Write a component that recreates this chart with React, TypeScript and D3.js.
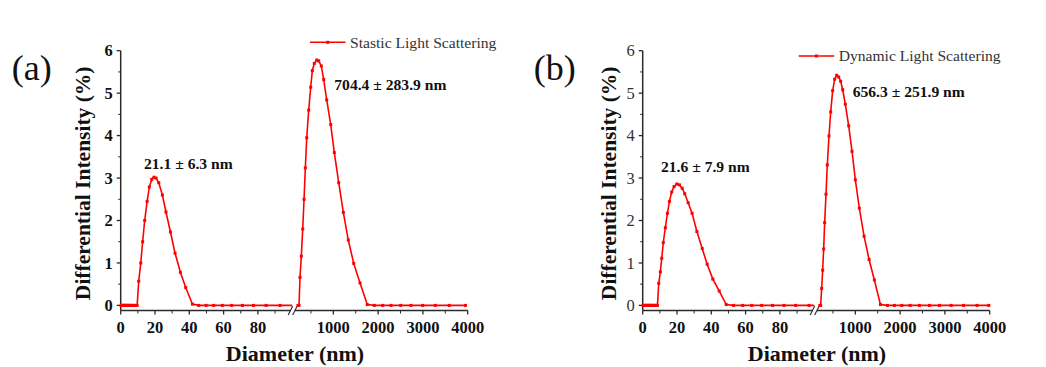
import React from "react";
import * as d3 from "d3";

// ---------- data ----------
const diameterA = [
  0.3, 0.7, 1.1, 1.5, 1.9, 2.3, 2.7, 3.1, 3.5, 3.9,
  4.3, 4.7, 5.2, 5.7, 6.2, 6.8, 7.4, 8.1, 8.8, 9.6,
  10.5, 11.7, 12.8, 14.0, 15.4, 16.7, 18.1, 19.4, 20.6, 22.2,
  24.3, 26.4, 29.0, 31.7, 34.8, 37.9, 41.8, 45.5, 49.8, 54.2,
  59.3, 64.7, 71.0, 77.4, 84.8, 92.9, 101.5, 111, 121, 132,
  145, 158, 173, 189, 210, 234, 256, 285, 317, 346,
  375, 406, 450, 495, 531, 575, 629, 674, 732, 785,
  852, 942, 1022, 1120, 1223, 1334, 1455, 1596, 1758, 1915,
  2102, 2288, 2504, 2734, 2995, 3276, 3589, 3950,
];
const intensityA = [
  0, 0, 0, 0, 0, 0, 0, 0, 0, 0,
  0, 0, 0, 0, 0, 0, 0, 0, 0, 0,
  0.57, 1.0, 1.5, 2.0, 2.45, 2.79, 2.97, 3.02, 3.0, 2.89,
  2.6, 2.2, 1.73, 1.23, 0.78, 0.42, 0.03, 0, 0, 0,
  0, 0, 0, 0, 0, 0, 0, 0, 0, 0,
  0, 0, 0, 0, 0, 0, 0.66, 1.16, 1.8, 2.5,
  3.24, 3.95, 4.6, 5.14, 5.53, 5.7, 5.78, 5.76, 5.64, 5.32,
  4.84, 4.26, 3.6, 2.89, 2.19, 1.54, 0.99, 0.53, 0.02, 0,
  0, 0, 0, 0, 0, 0, 0, 0,
];
const diameterB = [
  0.3, 0.7, 1.1, 1.5, 1.9, 2.3, 2.7, 3.1, 3.5, 3.9,
  4.3, 4.7, 5.1, 5.5, 6.0, 6.5, 7.0, 7.5, 8.0, 8.6,
  9.36, 10.3, 11.1, 12.0, 13.2, 14.4, 15.6, 16.9, 18.3, 19.9,
  21.4, 23.0, 24.5, 26.5, 28.8, 31.6, 34.7, 37.6, 40.9, 44.6,
  48.7, 53.0, 58.3, 63.6, 69.4, 75.7, 82.4, 89.2, 97.0, 105,
  114, 124, 135, 147, 160, 174, 189, 207, 226, 248,
  271, 293, 315, 345, 374, 412, 450, 494, 539, 584,
  629, 673, 718, 776, 852, 926, 1000, 1089, 1195, 1307,
  1425, 1560, 1716, 1872, 2038, 2224, 2432, 2655, 2879, 3140,
  3416, 3716, 3980,
];
const intensityB = [
  0, 0, 0, 0, 0, 0, 0, 0, 0, 0,
  0, 0, 0, 0, 0, 0, 0, 0, 0, 0,
  0.52, 0.79, 1.11, 1.48, 1.83, 2.17, 2.45, 2.67, 2.8, 2.86,
  2.84, 2.76, 2.63, 2.42, 2.17, 1.74, 1.34, 0.97, 0.62, 0.34,
  0.02, 0, 0, 0, 0, 0, 0, 0, 0, 0,
  0, 0, 0, 0, 0, 0, 0, 0, 0, 0.4,
  0.83, 1.33, 1.95, 2.62, 3.31, 3.99, 4.56, 5.06, 5.33, 5.42,
  5.38, 5.28, 5.08, 4.74, 4.23, 3.63, 2.96, 2.29, 1.63, 1.08,
  0.6, 0.02, 0, 0, 0, 0, 0, 0, 0, 0,
  0, 0, 0,
];

const yTicks = [0, 1, 2, 3, 4, 5, 6];
const yMinorTicks = [0.5, 1.5, 2.5, 3.5, 4.5, 5.5];
const xLeftTicks = [0, 20, 40, 60, 80];
const xLeftMinor = [10, 30, 50, 70, 90];
const xRightTicks = [1000, 2000, 3000, 4000];
const xRightMinor = [500, 1500, 2500, 3500];

const legendA = "Stastic Light Scattering";
const legendB = "Dynamic Light Scattering";
const peakLabelsA = ["21.1 ± 6.3 nm", "704.4 ± 283.9 nm"];
const peakLabelsB = ["21.6 ± 7.9 nm", "656.3 ± 251.9 nm"];

// ---------- layout ----------
const FONT = "'Liberation Serif', 'Times New Roman', serif";
const RED = "#ff0000";
const AXIS = "#2a2a2a";
const TOP = 50.7;
const BOTTOM = 310.5;
const LEFT_W = 171.5;
const RIGHT_START = 176.8;
const RIGHT_END = 347;

const yScale = d3.scaleLinear().domain([-0.12, 6]).range([BOTTOM, TOP]);

type PanelCfg = {
  id: string;
  x0: number;
  tag: string;
  diam: number[];
  inten: number[];
  legend: string;
  legendX: number;
  legendY: number;
  labels: string[];
  labelPos: [number, number][];
  yBold: boolean;
  yTitleX: number;
};

const panels: PanelCfg[] = [
  {
    id: "a", x0: 120.7, tag: "(a)", diam: diameterA, inten: intensityA,
    legend: legendA, legendX: 310, legendY: 42.3,
    labels: peakLabelsA, labelPos: [[144, 168.5], [334.3, 90]],
    yBold: true, yTitleX: 90,
  },
  {
    id: "b", x0: 642.7, tag: "(b)", diam: diameterB, inten: intensityB,
    legend: legendB, legendX: 798.7, legendY: 56,
    labels: peakLabelsB, labelPos: [[661, 171.5], [852.7, 97.3]],
    yBold: false, yTitleX: 615.5,
  },
];

function Panel({ p }: { p: PanelCfg }) {
  const x0 = p.x0;
  const xl = d3.scaleLinear().domain([0, 100]).range([x0, x0 + LEFT_W]);
  const xr = d3.scaleLinear().domain([200, 4000]).range([x0 + RIGHT_START, x0 + RIGHT_END]);
  const pts = p.diam.map((d, i) => ({ d, v: p.inten[i] }));
  const lineL = d3.line<{ d: number; v: number }>().x((q) => xl(q.d)).y((q) => yScale(q.v));
  const lineR = d3.line<{ d: number; v: number }>().x((q) => xr(q.d)).y((q) => yScale(q.v));
  const ptsL = pts.filter((q) => q.d <= 100);
  const ptsR = pts.filter((q) => q.d >= 200);
  const ms = 3;
  const tickFont = { fontFamily: FONT, fontSize: 16.5, fontWeight: "bold" as const, fill: "#111" };
  return (
    <g>
      <defs>
        <clipPath id={`clipL-${p.id}`}>
          <rect x={x0} y={0} width={LEFT_W} height={BOTTOM} />
        </clipPath>
        <clipPath id={`clipR-${p.id}`}>
          <rect x={x0 + RIGHT_START} y={0} width={RIGHT_END - RIGHT_START + 5} height={BOTTOM} />
        </clipPath>
      </defs>

      {/* panel tag */}
      <text x={x0 - 109} y={80} fontFamily={FONT} fontSize={36} fill="#111">{p.tag}</text>

      {/* y axis */}
      <line x1={x0} x2={x0} y1={TOP} y2={BOTTOM} stroke={AXIS} strokeWidth={1.5} />
      {yTicks.map((t) => (
        <g key={`yt${t}`}>
          <line x1={x0 - 4} x2={x0} y1={yScale(t)} y2={yScale(t)} stroke={AXIS} strokeWidth={1.3} />
          <text x={x0 - 8} y={yScale(t)} dy="0.35em" textAnchor="end" fontFamily={FONT} fontSize={16.5}
            fontWeight={p.yBold ? "bold" : "normal"} fill={p.yBold ? "#111" : "#333"}>{t}</text>
        </g>
      ))}
      {yMinorTicks.map((t) => (
        <line key={`ym${t}`} x1={x0 - 2.5} x2={x0} y1={yScale(t)} y2={yScale(t)} stroke={AXIS} strokeWidth={1} />
      ))}

      {/* x axis */}
      <line x1={x0} x2={x0 + LEFT_W - 1.5} y1={BOTTOM} y2={BOTTOM} stroke={AXIS} strokeWidth={1.5} />
      <line x1={x0 + RIGHT_START - 2.5} x2={x0 + RIGHT_END} y1={BOTTOM} y2={BOTTOM} stroke={AXIS} strokeWidth={1.5} />
      {xLeftTicks.map((t) => (
        <g key={`xl${t}`}>
          <line x1={xl(t)} x2={xl(t)} y1={BOTTOM} y2={BOTTOM + 4} stroke={AXIS} strokeWidth={1.3} />
          <text x={xl(t)} y={332.5} textAnchor="middle" {...tickFont}>{t}</text>
        </g>
      ))}
      {xLeftMinor.map((t) => (
        <line key={`xlm${t}`} x1={xl(t)} x2={xl(t)} y1={BOTTOM} y2={BOTTOM + 3} stroke={AXIS} strokeWidth={1} />
      ))}
      {xRightTicks.map((t) => (
        <g key={`xr${t}`}>
          <line x1={xr(t)} x2={xr(t)} y1={BOTTOM} y2={BOTTOM + 4} stroke={AXIS} strokeWidth={1.3} />
          <text x={xr(t)} y={332.5} textAnchor="middle" {...tickFont}>{t}</text>
        </g>
      ))}
      {xRightMinor.map((t) => (
        <line key={`xrm${t}`} x1={xr(t)} x2={xr(t)} y1={BOTTOM} y2={BOTTOM + 3} stroke={AXIS} strokeWidth={1} />
      ))}
      {/* break marks */}
      <line x1={x0 + LEFT_W - 4} y1={BOTTOM + 4.5} x2={x0 + LEFT_W + 0.5} y2={BOTTOM - 4.5} stroke={AXIS} strokeWidth={1.1} />
      <line x1={x0 + LEFT_W + 0.5} y1={BOTTOM + 4.5} x2={x0 + LEFT_W + 5} y2={BOTTOM - 4.5} stroke={AXIS} strokeWidth={1.1} />

      {/* data */}
      <g clipPath={`url(#clipL-${p.id})`}>
        <path d={lineL(pts) || ""} fill="none" stroke={RED} strokeWidth={1.6} />
      </g>
      <g clipPath={`url(#clipR-${p.id})`}>
        <path d={lineR(pts) || ""} fill="none" stroke={RED} strokeWidth={1.6} />
      </g>
      {ptsL.map((q, i) => (
        <rect key={`pl${i}`} x={xl(q.d) - ms / 2} y={yScale(q.v) - ms / 2} width={ms} height={ms} fill={RED} />
      ))}
      {ptsR.map((q, i) => (
        <rect key={`pr${i}`} x={xr(q.d) - ms / 2} y={yScale(q.v) - ms / 2} width={ms} height={ms} fill={RED} />
      ))}

      {/* titles */}
      <text x={x0 + 174.3} y={361} textAnchor="middle" fontFamily={FONT} fontSize={22} fontWeight="bold" fill="#111">
        Diameter (nm)
      </text>
      <text transform={`translate(${p.yTitleX},183.3) rotate(-90)`} textAnchor="middle" fontFamily={FONT}
        fontSize={21.5} fontWeight="bold" fill="#111">
        Differential Intensity (%)
      </text>

      {/* legend */}
      <line x1={p.legendX} x2={p.legendX + 35.5} y1={p.legendY} y2={p.legendY} stroke={RED} strokeWidth={1.6} />
      <rect x={p.legendX + 17.75 - ms / 2} y={p.legendY - ms / 2} width={ms} height={ms} fill={RED} />
      <text x={p.legendX + 40} y={p.legendY + 5.2} fontFamily={FONT} fontSize={15.6} fill="#333">{p.legend}</text>

      {/* peak annotations */}
      {p.labels.map((s, i) => (
        <text key={`lab${i}`} x={p.labelPos[i][0]} y={p.labelPos[i][1]} fontFamily={FONT} fontSize={15.6}
          fontWeight="bold" fill="#111">{s}</text>
      ))}
    </g>
  );
}

export default function App() {
  return (
    <svg width={1046} height={367} viewBox="0 0 1046 367"
      style={{ position: "fixed", left: 0, top: 0, background: "#ffffff" }}>
      <rect x={0} y={0} width={1046} height={367} fill="#ffffff" />
      {panels.map((p) => (
        <Panel key={p.id} p={p} />
      ))}
    </svg>
  );
}
